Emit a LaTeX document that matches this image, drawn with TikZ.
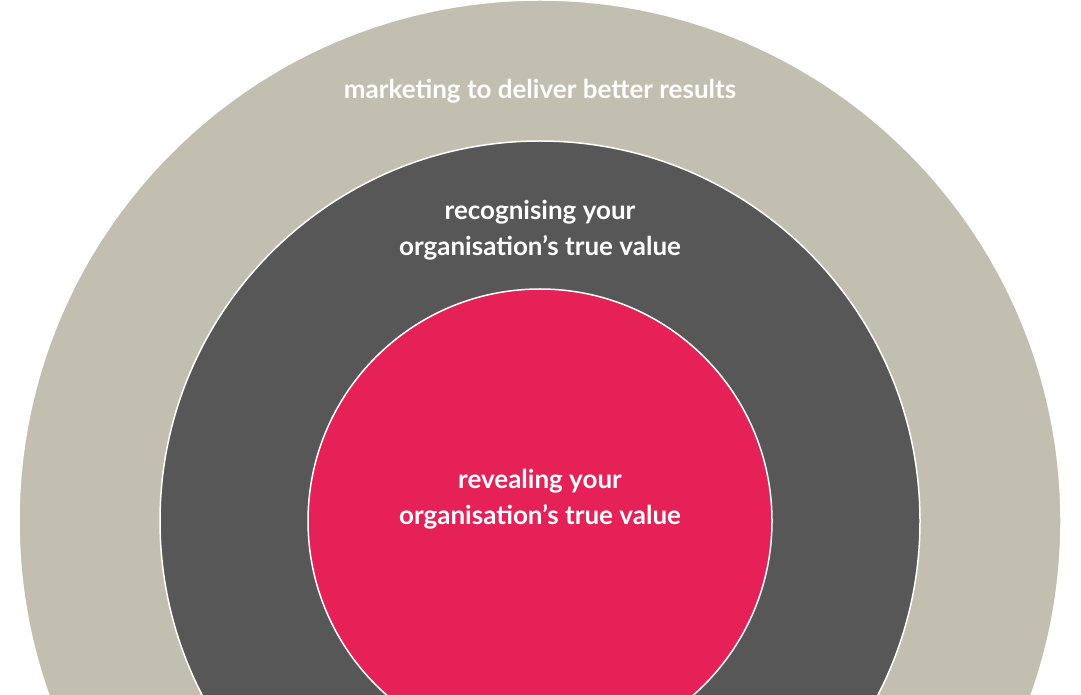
\documentclass[tikz,border=0pt]{standalone}
\usepackage{fontspec}
\setmainfont{Lato}
\definecolor{ringsand}{HTML}{C3BFB0}
\definecolor{ringgrey}{HTML}{575757}
\definecolor{ringred}{HTML}{E62157}
\tikzset{
  ring/.style={draw=white, line width=1.5pt},
  ringtext/.style={text=white, font=\fontsize{26}{36}\selectfont\bfseries, align=center}
}
\begin{document}
\begin{tikzpicture}[x=1pt,y=1pt]
  \useasboundingbox (0,0) rectangle (1081,694);
  \clip (0,0) rectangle (1081,694);
  % rings
  \fill[white] (0,0) rectangle (1081,694);
  \filldraw[ring, fill=ringsand] (540,173) circle (521);
  \filldraw[ring, fill=ringgrey] (540,173) circle (380);
  \filldraw[ring, fill=ringred] (540,173) circle (232);
  % labels
  \node[ringtext] (outer) at (540,603) {marketing to deliver better results};
  \node[ringtext] (middle) at (540,464) {recognising your\\organisation’s true value};
  \node[ringtext] (inner) at (540,195) {revealing your\\organisation’s true value};
\end{tikzpicture}
\end{document}
